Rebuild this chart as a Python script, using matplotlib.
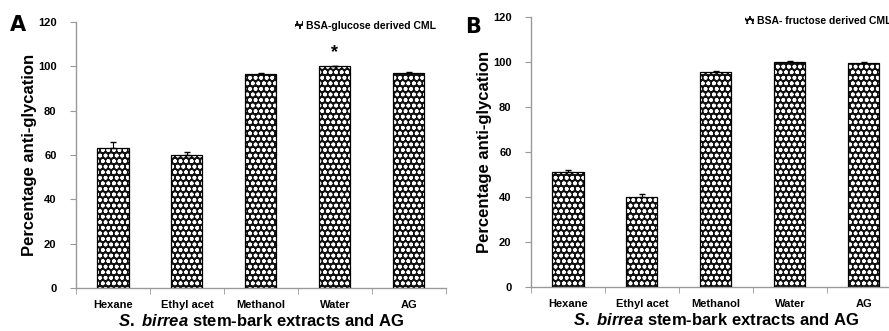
import numpy as np
import matplotlib.pyplot as plt

plt.rcParams['font.family'] = 'Liberation Sans'
plt.rcParams['hatch.linewidth'] = 1.1
plt.rcParams['mathtext.fontset'] = 'custom'
plt.rcParams['mathtext.it'] = 'Liberation Sans:italic:bold'
plt.rcParams['mathtext.rm'] = 'Liberation Sans:bold'

categories = ["Hexane", "Ethyl acet", "Methanol", "Water", "AG"]
glucose_vals = [63, 60, 96.5, 100, 97]
glucose_err = [3, 1.5, 0.5, 0.3, 0.3]
fructose_vals = [51, 40, 95.5, 100, 99.7]
fructose_err = [1, 1.5, 0.5, 0.3, 0.3]

fig = plt.figure(figsize=(8.89, 3.31), dpi=100)
axA = fig.add_axes([0.0855, 0.130, 0.416, 0.8035])
axB = fig.add_axes([0.5973, 0.133, 0.416, 0.8156])

BAR_FACE = "#111111"
PATTERN = "ooo"


def draw_panel(ax, vals, err, legend_text):
    x = np.arange(len(categories))
    ax.bar(x, vals, width=0.42, color=BAR_FACE, edgecolor="white",
           hatch=PATTERN, linewidth=0, zorder=2)
    ax.bar(x, vals, width=0.42, fill=False, edgecolor="black", linewidth=0.9, zorder=3)
    ax.errorbar(x, vals, yerr=[np.zeros(len(err)), err], fmt="none",
                ecolor="black", elinewidth=0.8, capsize=2, zorder=4)
    ax.set_xlim(-0.5, 4.5)
    ax.set_ylim(0, 120)
    ax.set_yticks(range(0, 121, 20))
    ax.set_xticks(x)
    ax.set_xticklabels(categories, fontsize=8, fontweight="bold")
    ax.set_xticks(np.arange(-0.5, 5, 1), minor=True)
    ax.tick_params(axis="x", which="major", length=0, pad=9)
    ax.tick_params(axis="x", which="minor", length=4, color="#999999", direction="out")
    ax.tick_params(axis="y", length=4, color="#999999", labelsize=8, pad=10)
    for lab in ax.get_yticklabels():
        lab.set_fontweight("bold")
    for s in ["top", "right"]:
        ax.spines[s].set_visible(False)
    for s in ["left", "bottom"]:
        ax.spines[s].set_color("#999999")
        ax.spines[s].set_linewidth(1.0)
    ax.set_ylabel("Percentage anti-glycation", fontsize=12, fontweight="bold", labelpad=1)
    ax.set_xlabel(r"$\it{S.}$ $\it{birrea}$ stem-bark extracts and AG",
                  fontsize=12, fontweight="bold", labelpad=2)
    ax.bar([0], [0], width=0.42, color=BAR_FACE, edgecolor="white", hatch=PATTERN,
           linewidth=0, label=legend_text)
    ax.legend(loc="upper right", bbox_to_anchor=(1.0, 1.04), frameon=False,
              handlelength=0.8, handleheight=0.8, handletextpad=0.3,
              prop={"weight": "bold", "size": 7.5})
    return ax


draw_panel(axA, glucose_vals, glucose_err, "BSA-glucose derived CML")
draw_panel(axB, fructose_vals, fructose_err, "BSA- fructose derived CML")

axA.text(3, 106, "*", ha="center", va="center", fontsize=13, fontweight="bold")

fig.text(0.011, 0.905, "A", fontsize=15, fontweight="bold", family="DejaVu Sans")
fig.text(0.523, 0.900, "B", fontsize=15, fontweight="bold", family="DejaVu Sans")

fig.savefig("out.png", dpi=100)
